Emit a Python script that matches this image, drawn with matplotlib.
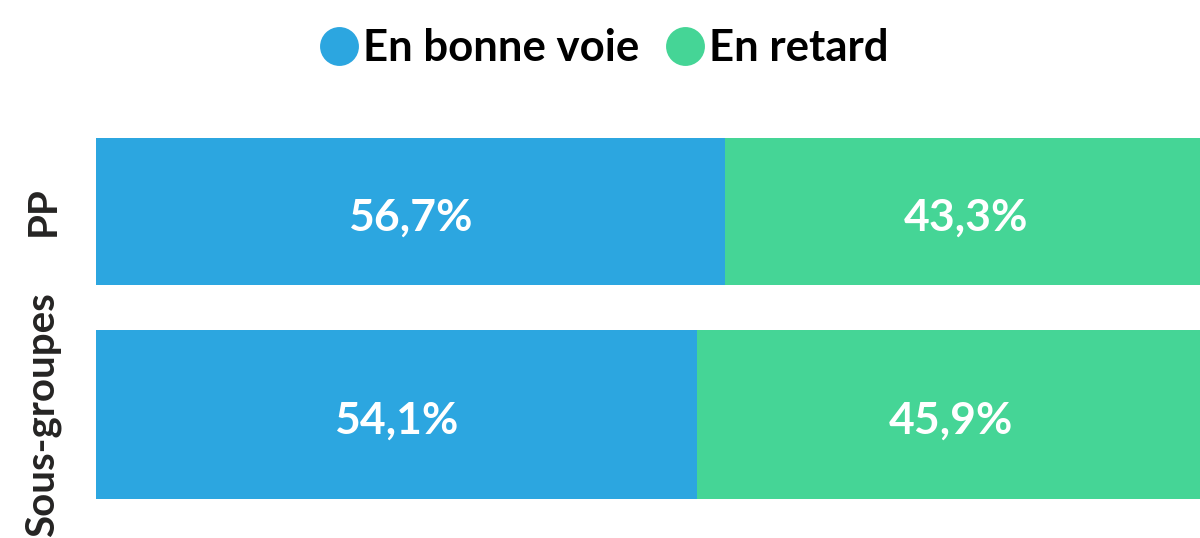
import matplotlib.pyplot as plt
from matplotlib.lines import Line2D

groups = ["PP", "Sous-groupes"]
series = ["En bonne voie", "En retard"]
on_track = [56.7, 54.1]
late = [43.3, 45.9]
colors = ["#2CA6E0", "#45D596"]

plt.rcParams["font.family"] = ["Lato", "DejaVu Sans"]

fig = plt.figure(figsize=(12, 5.38), dpi=100)
# axes spans the bars in pixel space (bars run a little past the right edge)
ax = fig.add_axes([96 / 1200, 1 - 499 / 538, 1110 / 1200, (499 - 138) / 538])

y_pos = [211.5, 414.5]
heights = [147, 169]
ax.barh(y_pos, on_track, height=heights, color=colors[0], linewidth=0)
ax.barh(y_pos, late, left=on_track, height=heights, color=colors[1], linewidth=0)

for y, a, b in zip(y_pos, on_track, late):
    ax.text(a / 2, y + 6, f"{a:.1f}%".replace(".", ","), ha="center", va="center",
            color="white", fontsize=32, fontweight="bold")
    ax.text(a + b / 2, y + 6, f"{b:.1f}%".replace(".", ","), ha="center", va="center",
            color="white", fontsize=32, fontweight="bold")

ax.set_xlim(0, 100)
ax.set_ylim(499, 138)
ax.set_yticks(y_pos)
ax.set_yticklabels(groups, rotation=90, va="center", fontsize=29,
                   fontweight="bold", color="#252423")
ax.tick_params(axis="y", length=0, pad=25)
ax.set_xticks([])
for s in ax.spines.values():
    s.set_visible(False)

handles = [Line2D([], [], marker="o", linestyle="", markersize=28,
                  markerfacecolor=c, markeredgewidth=0) for c in colors]
fig.legend(handles, series, loc="center", bbox_to_anchor=(0.503, 1 - 48 / 538),
           ncol=2, frameon=False, handletextpad=0.1, columnspacing=0.6,
           handlelength=0.9, prop={"size": 31.5, "weight": "bold"})

fig.savefig("out.png", dpi=100, facecolor="white")
